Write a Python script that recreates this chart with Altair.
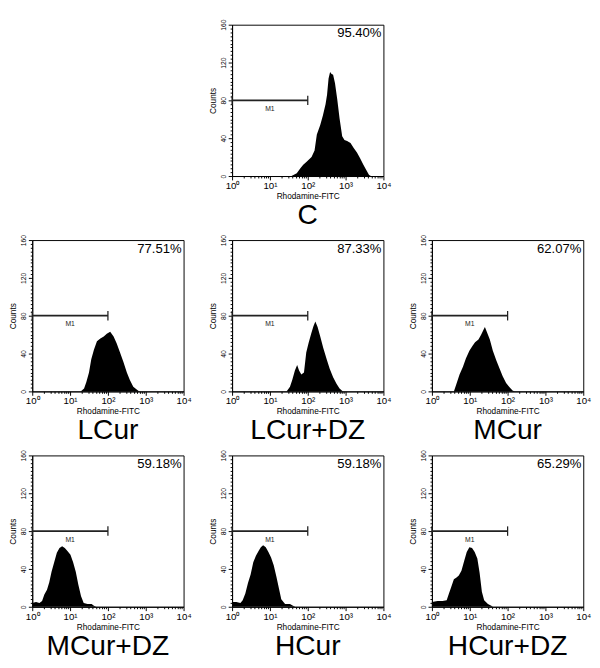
import altair as alt
import pandas as pd

FONT = "Liberation Sans"

# ---- data (x positions as log10 of Rhodamine-FITC intensity, y = counts) ----
C_e = [1.57, 1.71, 1.80, 1.88, 1.97, 2.10, 2.18, 2.24, 2.33, 2.40, 2.47, 2.51, 2.55, 2.59, 2.63, 2.67,
       2.72, 2.78, 2.84, 2.91, 2.97, 3.04, 3.13, 3.21, 3.30, 3.38, 3.47, 3.55, 3.62, 3.67]
C_c = [0, 3, 8, 12, 15, 20, 27, 44, 54, 64, 76, 86, 103, 110, 108, 107,
       98, 81, 61, 42, 38, 37, 35, 30, 25, 19, 12, 6, 1, 0]

LCur_e = [1.28, 1.37, 1.43, 1.50, 1.56, 1.63, 1.71, 1.80, 1.89, 1.97, 2.06, 2.15, 2.23, 2.32, 2.41,
          2.50, 2.58, 2.67, 2.76, 2.83]
LCur_c = [0, 3, 10, 20, 34, 44, 53, 56, 58, 61, 63, 58, 51, 41, 31, 20, 12, 5, 2, 0]

LCurDZ_e = [1.44, 1.53, 1.59, 1.66, 1.72, 1.77, 1.83, 1.90, 1.96, 2.02, 2.09, 2.15, 2.20, 2.26, 2.33,
            2.41, 2.50, 2.58, 2.67, 2.76, 2.84, 2.93]
LCurDZ_c = [0, 5, 12, 22, 28, 22, 18, 20, 41, 51, 61, 69, 74, 68, 58, 46, 34, 24, 15, 8, 3, 0]

MCur_e = [0.58, 0.64, 0.73, 0.82, 0.90, 0.99, 1.07, 1.14, 1.23, 1.30, 1.36, 1.40, 1.46, 1.53, 1.61,
          1.70, 1.79, 1.87, 1.96, 2.04, 2.13, 2.19]
MCur_c = [0, 7, 18, 26, 35, 43, 48, 52, 55, 60, 65, 68, 62, 55, 43, 33, 24, 16, 9, 5, 1, 0]

MCurDZ_e = [0.00, 0.10, 0.19, 0.26, 0.32, 0.39, 0.45, 0.51, 0.58, 0.65, 0.72, 0.79, 0.86, 0.93, 1.01,
            1.08, 1.15, 1.22, 1.29, 1.36, 1.46, 1.57, 1.63, 1.69]
MCurDZ_c = [4, 5, 4, 6, 13, 18, 26, 37, 47, 57, 62, 64, 62, 59, 55, 47, 37, 23, 11, 4, 3, 3, 1, 0]

HCur_e = [0.00, 0.11, 0.22, 0.28, 0.35, 0.42, 0.49, 0.56, 0.63, 0.70, 0.76, 0.82, 0.89, 0.96, 1.03,
          1.10, 1.17, 1.24, 1.30, 1.40, 1.53, 1.61, 1.67]
HCur_c = [5, 5, 4, 7, 14, 25, 34, 47, 54, 59, 63, 65, 63, 58, 52, 44, 32, 19, 8, 3, 3, 1, 0]

HCurDZ_e = [0.00, 0.15, 0.28, 0.39, 0.45, 0.51, 0.58, 0.65, 0.71, 0.78, 0.85, 0.92, 0.99, 1.06, 1.13,
            1.20, 1.26, 1.32, 1.38, 1.48, 1.57, 1.61]
HCurDZ_c = [5, 6, 6, 7, 14, 21, 29, 31, 33, 38, 48, 58, 63, 62, 58, 51, 36, 16, 7, 3, 1, 0]

names = ["C", "LCur", "LCur+DZ", "MCur", "MCur+DZ", "HCur", "HCur+DZ"]
percents = ["95.40%", "77.51%", "87.33%", "62.07%", "59.18%", "59.18%", "65.29%"]
series_e = [C_e, LCur_e, LCurDZ_e, MCur_e, MCurDZ_e, HCur_e, HCurDZ_e]
series_c = [C_c, LCur_c, LCurDZ_c, MCur_c, MCurDZ_c, HCur_c, HCurDZ_c]

m1_start, m1_end, m1_level = 1, 100, 80
m1_cap_low, m1_cap_high = 75, 85
m1_label_x, m1_label_y = 10, 71

x_tick_values = [k * 10 ** d for d in range(4) for k in range(1, 10)] + [10000]
y_tick_values = list(range(0, 161, 4))

W, H = 156, 156

x_scale = alt.Scale(type="log", domain=[1, 10000], nice=False)
y_scale = alt.Scale(domain=[0, 160], nice=False)

x_axis = alt.Axis(
    values=x_tick_values, tickCount=60,
    labelExpr=("datum.value == 1 ? '10⁰' : datum.value == 10 ? '10¹' : datum.value == 100 ? '10²'"
               " : datum.value == 1000 ? '10³' : datum.value == 10000 ? '10⁴' : ''"),
    tickSize={"condition": {"test": "indexof([1,10,100,1000,10000], datum.value) >= 0", "value": 4}, "value": 2},
    labelFlush=False, labelOverlap=False, labelFontSize=10, labelPadding=1,
    title="Rhodamine-FITC", titleFontSize=8.5, titlePadding=1, grid=False,
)
y_axis = alt.Axis(
    values=y_tick_values, tickCount=60,
    labelExpr="datum.value % 40 == 0 ? '' + datum.value : ''",
    tickSize={"condition": {"test": "datum.value % 40 == 0", "value": 4}, "value": 2},
    labelAngle=270, labelFontSize=7, labelPadding=2, labelFlush=False, labelOverlap=False,
    title="Counts", titleFontSize=8.5, titlePadding=2, grid=False,
)


def panel(name, pct, e_vals, counts):
    df = pd.DataFrame({"e": e_vals, "c": counts})
    base = alt.Chart(df).transform_calculate(v="pow(10, datum.e)")
    area = base.mark_area(color="black", interpolate="linear").encode(
        x=alt.X("v:Q", scale=x_scale, axis=x_axis),
        y=alt.Y("c:Q", scale=y_scale, axis=y_axis),
    )
    m1 = pd.DataFrame({"x1": [m1_start], "x2": [m1_end], "y": [m1_level]})
    rule = alt.Chart(m1).mark_rule(color="#222222", strokeWidth=1.8).encode(
        x=alt.X("x1:Q", scale=x_scale), x2="x2:Q", y=alt.Y("y:Q", scale=y_scale)
    )
    caps_df = pd.DataFrame({"x": [m1_start, m1_end], "y1": [m1_cap_low] * 2, "y2": [m1_cap_high] * 2})
    caps = alt.Chart(caps_df).mark_rule(color="#222222", strokeWidth=1.3).encode(
        x=alt.X("x:Q", scale=x_scale), y=alt.Y("y1:Q", scale=y_scale), y2="y2:Q"
    )
    lab_df = pd.DataFrame({"x": [m1_label_x], "y": [m1_label_y], "t": ["M1"]})
    lab = alt.Chart(lab_df).mark_text(font=FONT, fontSize=7, color="#222222", baseline="middle").encode(
        x=alt.X("x:Q", scale=x_scale), y=alt.Y("y:Q", scale=y_scale), text="t:N"
    )
    pct_df = pd.DataFrame({"x": [10000], "y": [160], "t": [pct]})
    ptxt = alt.Chart(pct_df).mark_text(font=FONT, fontSize=13.5, color="black", align="right",
                                       baseline="top", dx=-2, dy=2).encode(
        x=alt.X("x:Q", scale=x_scale), y=alt.Y("y:Q", scale=y_scale), text="t:N"
    )
    return alt.layer(area, rule, caps, lab, ptxt).properties(
        width=W, height=H,
        title=alt.TitleParams(name, orient="bottom", fontSize=29, font=FONT, fontWeight="normal",
                              anchor="middle", frame="group", offset=2, color="black"),
    )


def blank():
    return alt.Chart(pd.DataFrame({"t": [""]})).mark_text().encode(text="t:N").properties(
        width=W, height=H, view=alt.ViewBackground(stroke=None)
    )


panels = [panel(n, p, e, c) for n, p, e, c in zip(names, percents, series_e, series_c)]
cells = [blank(), panels[0], blank()] + panels[1:]

chart = alt.concat(*cells, columns=3, spacing={"row": 66, "column": 50}, bounds="flush").properties(
    padding=0, background="white"
).configure_view(stroke="black", strokeWidth=1).configure_axis(
    labelFont=FONT, titleFont=FONT, labelColor="black", titleColor="black",
    domainColor="black", tickColor="black", titleFontWeight="normal", domainWidth=1, tickWidth=1,
    labelOverlap=False,
)

chart.save("out.html", embed_options={"renderer": "svg", "actions": False})
